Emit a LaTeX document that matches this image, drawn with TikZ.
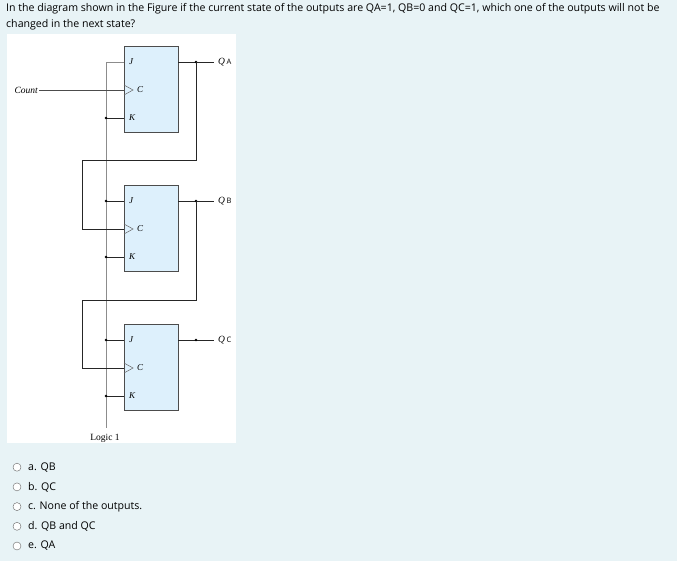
\documentclass[tikz,border=0pt]{standalone}
\usepackage{fontspec}
\setmainfont{Liberation Serif}
\newfontfamily\uifont{Open Sans}
\definecolor{pagebg}{HTML}{E8F3F6}
\definecolor{boxfill}{HTML}{DDF0FC}
\begin{document}
\begin{tikzpicture}[x=1pt,y=-1pt,
  ff/.style={draw=black!70,fill=boxfill,line width=0.6pt},
  wire/.style={line width=0.7pt,black!85},
  gwire/.style={line width=0.7pt,black!45},
  dotn/.style={circle,fill=black,inner sep=0.9pt},
  pin/.style={font=\itshape\fontsize{9}{9}\selectfont,inner sep=0pt,anchor=west},
  ui/.style={font=\uifont\fontsize{10.6}{12}\selectfont,anchor=west,inner sep=0pt},
  radio/.style={circle,draw=black!60,fill=white,minimum size=8pt,inner sep=0pt}]
\fill[pagebg] (0,0) rectangle (677,561);
\fill[white] (7,34) rectangle (236,443);
\node[ui] (q1) at (6,9) {In the diagram shown in the Figure if the current state of the outputs are QA=1, QB=0 and QC=1, which one of the outputs will not be};
\node[ui] (q2) at (6,25) {changed in the next state?};
% flip-flops
\foreach \n/\y in {A/46,B/185,C/324}{
  \draw[ff] (124,\y) rectangle (178,\y+86);
  \node[pin] (J\n) at (129,\y+16) {J};
  \node[pin] (C\n) at (137,\y+44) {C};
  \node[pin] (K\n) at (129,\y+72) {K};
  \draw[black!60,line width=0.5pt] (124,\y+39) -- (133,\y+44) -- (124,\y+49);
  \coordinate (jin\n) at (124,\y+16);
  \coordinate (cin\n) at (124,\y+44);
  \coordinate (kin\n) at (124,\y+72);
  \coordinate (out\n) at (178,\y+16);
  \coordinate (odot\n) at (196,\y+16);
  \coordinate (oend\n) at (214,\y+16);
  \node[font=\itshape\fontsize{9.5}{9}\selectfont,anchor=west,inner sep=0pt] (Q\n) at (218,\y+16) {Q\,{\uifont\fontsize{7.5}{7.5}\selectfont\upshape \n}};
  \draw[wire] (out\n) -- (oend\n);
  \node[dotn] at (odot\n) {};
}
% logic 1 line
\coordinate (l1top) at (106,62);
\coordinate (l1bot) at (106,428);
\draw[gwire] (jinA) -- (l1top) -- (l1bot);
\node[font=\fontsize{9.5}{9}\selectfont,inner sep=0pt] (logic) at (105,438) {Logic 1};
\foreach \p in {kinA,jinB,kinB,jinC,kinC}{
  \draw[wire] (106,0 |- \p) -- (\p);
  \node[dotn] at (106,0 |- \p) {};
}
% count
\node[font=\itshape\fontsize{9.5}{9}\selectfont,anchor=east,inner sep=1pt] (count) at (39,90) {Count};
\draw[wire,black!70] (count) -- (cinA);
% ripple connections
\draw[wire] (odotA) -- (196,160) -- (82,160) -- (82,229) -- (cinB);
\draw[wire] (odotB) -- (196,300) -- (82,300) -- (82,368) -- (cinC);
% options
\foreach \t [count=\i] in {a. QB,b. QC,c. None of the outputs.,d. QB and QC,e. QA}{
  \node[radio] (r\i) at (17,447.5+19.7*\i) {};
  \node[ui] (o\i) at (28,447.5+19.7*\i) {\t};
}
\end{tikzpicture}
\end{document}
